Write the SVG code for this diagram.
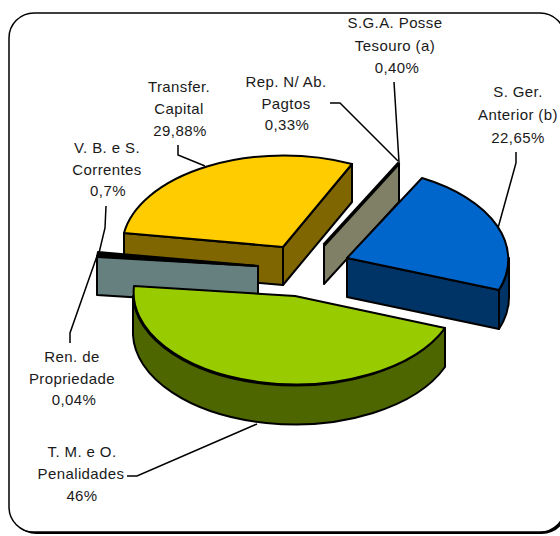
<svg xmlns="http://www.w3.org/2000/svg" width="560" height="536" viewBox="0 0 560 536">
<style>
.lbl{font-family:"Liberation Sans",Arial,sans-serif;font-size:15px;fill:#1a1a1a;text-anchor:middle;letter-spacing:0.4px}
.e{stroke:#000;stroke-width:2;stroke-linejoin:round}
.ld{fill:none;stroke:#000;stroke-width:1.5}
</style>
<rect width="560" height="536" fill="#fff"/>
<g id="frame">
<rect x="11" y="15" width="556" height="519" rx="25" fill="#000"/>
<rect x="9" y="13" width="556" height="519" rx="25" fill="#fff" stroke="#000" stroke-width="1.5"/>
</g>
<g id="transfer-capital">
<path class="e" d="M124,233 L283,247 L283,285 L124,271 Z" fill="#806600"/>
<path class="e" d="M283,247 L352,164 L352,202 L283,285 Z" fill="#806600"/>
<path class="e" d="M283,247 L124,233 A162,92 0 0,1 352,164 Z" fill="#FFCC00"/>
<text class="lbl" x="179" y="92">Transfer.</text>
<text class="lbl" x="179" y="114">Capital</text>
<text class="lbl" x="180" y="136">29,88%</text>
</g>
<g id="rep-sga">
<path class="e" d="M324,245 L399,163 L399,202 L324,284 Z" fill="#808066"/>
<path d="M324,245 L399,163" stroke="#000" stroke-width="3.5"/>
<text class="lbl" x="286" y="87">Rep. N/ Ab.</text>
<text class="lbl" x="286" y="108.5">Pagtos</text>
<text class="lbl" x="287" y="130">0,33%</text>
<text class="lbl" x="395" y="28">S.G.A. Posse</text>
<text class="lbl" x="395" y="50.5">Tesouro (a)</text>
<text class="lbl" x="397" y="73">0,40%</text>
</g>
<g id="s-ger-anterior">
<path class="e" d="M347,258 L499,290 L499,329 L347,297 Z" fill="#003366"/>
<path class="e" d="M509,258 A162,92 0 0,1 499,290 L499,329 A162,92 0 0,0 509,297 Z" fill="#003366"/>
<path class="e" d="M347,258 L422,178 A162,92 0 0,1 499,290 Z" fill="#0066CC"/>
<text class="lbl" x="518" y="97">S. Ger.</text>
<text class="lbl" x="518" y="120">Anterior (b)</text>
<text class="lbl" x="518" y="143">22,65%</text>
</g>
<g id="vb-ren">
<path class="e" d="M258,266 L97,256 L97,295 L258,305 Z" fill="#668080"/>
<path class="e" d="M258,266 L97,257 L98,252 Z" fill="#000"/>
<text class="lbl" x="107" y="153">V. B. e S.</text>
<text class="lbl" x="107" y="174.5">Correntes</text>
<text class="lbl" x="108" y="196">0,7%</text>
<text class="lbl" x="72" y="362">Ren. de</text>
<text class="lbl" x="72" y="383.5">Propriedade</text>
<text class="lbl" x="74" y="405">0,04%</text>
</g>
<g id="tm-penalidades">
<path class="e" d="M445,328 A162,92 0 0,1 133,296 L133,335 A162,92 0 0,0 445,367 Z" fill="#4D6600"/>
<path class="e" d="M295,296 L445,328 A162,92 0 0,1 134,286 Z" fill="#99CC00"/>
<text class="lbl" x="82" y="457">T. M. e O.</text>
<text class="lbl" x="81" y="479">Penalidades</text>
<text class="lbl" x="82" y="501">46%</text>
</g>
<g id="connectors">
<polyline class="ld" points="178,145 178,155 205,166"/>
<polyline class="ld" points="330,103 340,103 398,161"/>
<polyline class="ld" points="394,82 399,162"/>
<polyline class="ld" points="516,152 516,163 498,228"/>
<polyline class="ld" points="106,206 105,228 99,253"/>
<polyline class="ld" points="70,343 70,333 97,256"/>
<polyline class="ld" points="127,476 137,476 257,424"/>
</g>
</svg>
